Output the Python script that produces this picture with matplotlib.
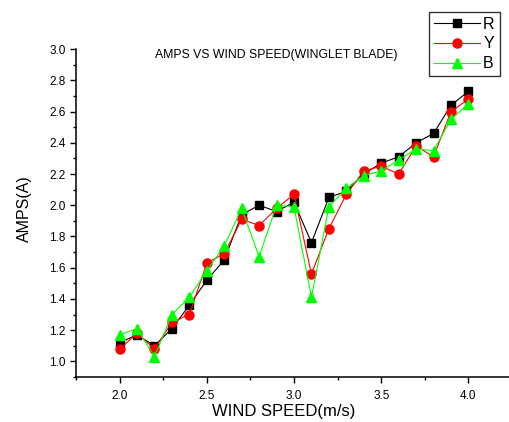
import matplotlib
matplotlib.use("Agg")
import matplotlib.pyplot as plt
from matplotlib.ticker import MultipleLocator

plt.rcParams['font.family'] = ['Liberation Sans', 'DejaVu Sans']

wind = [2.0, 2.1, 2.2, 2.3, 2.4, 2.5, 2.6, 2.7, 2.8, 2.9, 3.0,
        3.1, 3.2, 3.3, 3.4, 3.5, 3.6, 3.7, 3.8, 3.9, 4.0]
amps_R = [1.12, 1.17, 1.10, 1.21, 1.36, 1.52, 1.65, 1.94, 2.00, 1.96, 2.02,
          1.76, 2.05, 2.09, 2.20, 2.27, 2.31, 2.40, 2.46, 2.64, 2.73]
amps_Y = [1.08, 1.18, 1.08, 1.25, 1.30, 1.63, 1.69, 1.91, 1.87, 1.98, 2.07,
          1.56, 1.85, 2.07, 2.22, 2.25, 2.20, 2.38, 2.31, 2.60, 2.68]
amps_B = [1.17, 1.21, 1.03, 1.30, 1.41, 1.58, 1.74, 1.98, 1.67, 2.00, 1.99,
          1.41, 1.99, 2.11, 2.19, 2.22, 2.29, 2.36, 2.35, 2.55, 2.65]

fig = plt.figure(figsize=(5.1, 4.22), dpi=100)
ax = fig.add_axes([0.149, 0.1066, 0.855, 0.777])

ax.plot(wind, amps_R, color='black', lw=0.8, marker='s', ms=5.5, label='R')
ax.plot(wind, amps_Y, color='#ff0000', lw=0.8, marker='o', ms=6.5, label='Y')
ax.plot(wind, amps_B, color='#00ff00', lw=0.8, marker='^', ms=7, label='B')

ax.set_xlim(1.75, 4.25)
ax.set_ylim(0.9, 3.0)
ax.xaxis.set_major_locator(MultipleLocator(0.5))
ax.xaxis.set_minor_locator(MultipleLocator(0.25))
ax.yaxis.set_minor_locator(MultipleLocator(0.1))
ax.set_yticks([1.0, 1.2, 1.4, 1.6, 1.8, 2.0, 2.2, 2.4, 2.6, 2.8, 3.0])
ax.tick_params(which='major', direction='out', length=4, width=1, labelsize=8.5)
ax.tick_params(axis='x', which='major', pad=5)
ax.tick_params(which='minor', direction='out', length=2.5, width=1)
ax.spines['top'].set_visible(False)
ax.spines['right'].set_visible(False)
for s in ('left', 'bottom'):
    ax.spines[s].set_linewidth(1.1)

ax.set_xlabel('WIND SPEED(m/s)', fontsize=12)
ax.set_ylabel('AMPS(A)', fontsize=11.5)
ax.xaxis.set_label_coords(0.477, -0.082)
ax.yaxis.set_label_coords(-0.100, 0.515)

fig.text(0.541, 0.870, 'AMPS VS WIND SPEED(WINGLET BLADE)', fontsize=8.8,
         ha='center', va='center')

leg = fig.legend(loc='upper left', bbox_to_anchor=(0.841, 0.972), frameon=True,
                 fancybox=False, edgecolor='black', fontsize=11.5,
                 handlelength=2.9, borderpad=0.3, labelspacing=0.3,
                 handletextpad=0.2, borderaxespad=0)
leg.get_frame().set_linewidth(1.0)

fig.savefig('out.png', dpi=100)
